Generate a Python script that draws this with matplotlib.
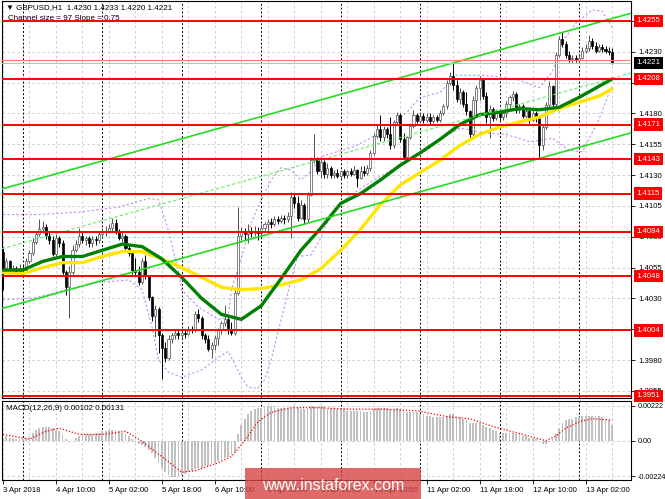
import matplotlib
matplotlib.use("Agg")
import matplotlib.pyplot as plt
from matplotlib.patches import Rectangle
import numpy as np

plt.rcParams['font.family'] = ['Liberation Sans', 'DejaVu Sans']

# GBPUSD H1 candles, first bar = 3 Apr 18:00
bar_open = [
    1.4068, 1.4055, 1.4060, 1.4053, 1.4055, 1.4052, 1.4055, 1.4053, 1.4060, 1.4067,
    1.4076, 1.4082, 1.4086, 1.4088, 1.4081, 1.4077, 1.4066, 1.4079, 1.4075, 1.4051,
    1.4039, 1.4051, 1.4069, 1.4074, 1.4081, 1.4077, 1.4079, 1.4075, 1.4078, 1.4077,
    1.4082, 1.4084, 1.4085, 1.4087, 1.4091, 1.4085, 1.4079, 1.4081, 1.4071, 1.4067,
    1.4053, 1.4051, 1.4043, 1.4060, 1.4048, 1.4031, 1.4016, 1.4021, 1.4000, 1.3990,
    1.3982, 1.3997, 1.4000, 1.4002, 1.4000, 1.4002, 1.4001, 1.4005, 1.4004, 1.4017,
    1.4014, 1.4000, 1.3997, 1.3989, 1.3992, 1.3998, 1.4004, 1.4010, 1.4013, 1.4004,
    1.4002, 1.4034, 1.4081, 1.4084, 1.4082, 1.4085, 1.4083, 1.4085, 1.4083, 1.4087,
    1.4090, 1.4092, 1.4090, 1.4094, 1.4093, 1.4095, 1.4094, 1.4097, 1.4112, 1.4107,
    1.4095, 1.4106, 1.4094, 1.4114, 1.4142, 1.4144, 1.4133, 1.4141, 1.4131, 1.4136,
    1.4130, 1.4132, 1.4129, 1.4133, 1.4130, 1.4133, 1.4131, 1.4134, 1.4128, 1.4133,
    1.4132, 1.4136, 1.4148, 1.4162, 1.4167, 1.4161, 1.4167, 1.4163, 1.4154, 1.4173,
    1.4179, 1.4159, 1.4145, 1.4161, 1.4170, 1.4179, 1.4174, 1.4178, 1.4175, 1.4177,
    1.4174, 1.4177, 1.4175, 1.4180, 1.4186, 1.4205, 1.4210, 1.4203, 1.4192, 1.4197,
    1.4188, 1.4182, 1.4163, 1.4191, 1.4201, 1.4207, 1.4194, 1.4177, 1.4184, 1.4176,
    1.4182, 1.4177, 1.4180, 1.4188, 1.4193, 1.4196, 1.4183, 1.4186, 1.4178, 1.4182,
    1.4175, 1.4180, 1.4176, 1.4154, 1.4169, 1.4187, 1.4202, 1.4188, 1.4227, 1.4240,
    1.4236, 1.4227, 1.4224, 1.4225, 1.4223, 1.4225, 1.4231, 1.4233, 1.4239, 1.4235,
    1.4231, 1.4234, 1.4232, 1.4231, 1.4230]
bar_high = [
    1.4072, 1.4063, 1.4061, 1.4057, 1.4056, 1.4058, 1.4057, 1.4063, 1.4069, 1.4079,
    1.4085, 1.4094, 1.4093, 1.4090, 1.4085, 1.4081, 1.4082, 1.4081, 1.4077, 1.4053,
    1.4056, 1.4073, 1.4077, 1.4087, 1.4084, 1.4081, 1.4081, 1.4081, 1.4081, 1.4085,
    1.4087, 1.4089, 1.4090, 1.4095, 1.4094, 1.4086, 1.4084, 1.4082, 1.4073, 1.4068,
    1.4063, 1.4056, 1.4063, 1.4065, 1.4049, 1.4032, 1.4025, 1.4023, 1.4002, 1.3995,
    1.4000, 1.4002, 1.4004, 1.4004, 1.4004, 1.4004, 1.4008, 1.4008, 1.4020, 1.4021,
    1.4016, 1.4002, 1.4000, 1.3995, 1.4000, 1.4006, 1.4012, 1.4025, 1.4015, 1.4011,
    1.4037, 1.4104, 1.4088, 1.4087, 1.4090, 1.4088, 1.4089, 1.4088, 1.4090, 1.4092,
    1.4094, 1.4095, 1.4097, 1.4097, 1.4098, 1.4098, 1.4100, 1.4116, 1.4115, 1.4113,
    1.4110, 1.4107, 1.4116, 1.4145, 1.4163, 1.4145, 1.4145, 1.4142, 1.4140, 1.4137,
    1.4134, 1.4135, 1.4134, 1.4135, 1.4134, 1.4136, 1.4137, 1.4135, 1.4137, 1.4137,
    1.4138, 1.4150, 1.4164, 1.4171, 1.4179, 1.4170, 1.4169, 1.4177, 1.4175, 1.4181,
    1.4180, 1.4164, 1.4162, 1.4172, 1.4183, 1.4180, 1.4180, 1.4180, 1.4180, 1.4180,
    1.4179, 1.4179, 1.4183, 1.4188, 1.4207, 1.4214, 1.4222, 1.4207, 1.4201, 1.4199,
    1.4197, 1.4183, 1.4194, 1.4203, 1.4210, 1.4209, 1.4197, 1.4187, 1.4185, 1.4184,
    1.4183, 1.4183, 1.4190, 1.4195, 1.4198, 1.4197, 1.4188, 1.4188, 1.4184, 1.4183,
    1.4183, 1.4182, 1.4178, 1.4171, 1.4189, 1.4206, 1.4203, 1.4230, 1.4243, 1.4246,
    1.4239, 1.4231, 1.4227, 1.4227, 1.4227, 1.4234, 1.4236, 1.4244, 1.4241, 1.4238,
    1.4236, 1.4236, 1.4235, 1.4234, 1.4233]
bar_low = [
    1.4037, 1.4051, 1.4050, 1.4050, 1.4049, 1.4051, 1.4048, 1.4051, 1.4059, 1.4065,
    1.4074, 1.4081, 1.4083, 1.4078, 1.4074, 1.4064, 1.4064, 1.4072, 1.4048, 1.4033,
    1.4014, 1.4048, 1.4068, 1.4072, 1.4075, 1.4073, 1.4072, 1.4072, 1.4073, 1.4075,
    1.4079, 1.4081, 1.4083, 1.4084, 1.4082, 1.4077, 1.4076, 1.4068, 1.4064, 1.4050,
    1.4048, 1.4041, 1.4042, 1.4046, 1.4029, 1.4012, 1.3999, 1.3986, 1.3965, 1.3978,
    1.3980, 1.3994, 1.3997, 1.3997, 1.3998, 1.3998, 1.4000, 1.4002, 1.4003, 1.4011,
    1.3997, 1.3994, 1.3987, 1.3982, 1.3988, 1.3992, 1.4001, 1.4008, 1.4001, 1.4000,
    1.4000, 1.4033, 1.4077, 1.4077, 1.4075, 1.4080, 1.4081, 1.4077, 1.4082, 1.4085,
    1.4084, 1.4087, 1.4089, 1.4090, 1.4091, 1.4090, 1.4092, 1.4079, 1.4103, 1.4093,
    1.4094, 1.4090, 1.4092, 1.4113, 1.4140, 1.4131, 1.4128, 1.4128, 1.4128, 1.4128,
    1.4128, 1.4128, 1.4127, 1.4128, 1.4128, 1.4129, 1.4130, 1.4120, 1.4127, 1.4129,
    1.4130, 1.4133, 1.4146, 1.4160, 1.4158, 1.4158, 1.4160, 1.4151, 1.4152, 1.4171,
    1.4157, 1.4144, 1.4144, 1.4159, 1.4168, 1.4172, 1.4172, 1.4172, 1.4173, 1.4171,
    1.4172, 1.4173, 1.4173, 1.4179, 1.4184, 1.4203, 1.4199, 1.4189, 1.4188, 1.4185,
    1.4179, 1.4160, 1.4162, 1.4177, 1.4191, 1.4192, 1.4172, 1.4160, 1.4174, 1.4175,
    1.4175, 1.4175, 1.4177, 1.4184, 1.4190, 1.4180, 1.4180, 1.4176, 1.4176, 1.4172,
    1.4174, 1.4173, 1.4144, 1.4150, 1.4167, 1.4185, 1.4184, 1.4186, 1.4226, 1.4234,
    1.4225, 1.4222, 1.4221, 1.4222, 1.4222, 1.4224, 1.4229, 1.4231, 1.4232, 1.4229,
    1.4230, 1.4230, 1.4229, 1.4227, 1.4220]
bar_close = [
    1.4055, 1.4060, 1.4053, 1.4055, 1.4052, 1.4055, 1.4053, 1.4060, 1.4067, 1.4076,
    1.4082, 1.4086, 1.4088, 1.4081, 1.4077, 1.4066, 1.4079, 1.4075, 1.4051, 1.4039,
    1.4051, 1.4069, 1.4074, 1.4081, 1.4077, 1.4079, 1.4075, 1.4078, 1.4077, 1.4082,
    1.4084, 1.4085, 1.4087, 1.4091, 1.4085, 1.4079, 1.4081, 1.4071, 1.4067, 1.4053,
    1.4051, 1.4043, 1.4060, 1.4048, 1.4031, 1.4016, 1.4021, 1.4000, 1.3990, 1.3982,
    1.3997, 1.4000, 1.4002, 1.4000, 1.4002, 1.4001, 1.4005, 1.4004, 1.4017, 1.4014,
    1.4000, 1.3997, 1.3989, 1.3992, 1.3998, 1.4004, 1.4010, 1.4013, 1.4004, 1.4002,
    1.4034, 1.4081, 1.4084, 1.4082, 1.4085, 1.4083, 1.4085, 1.4083, 1.4087, 1.4090,
    1.4092, 1.4090, 1.4094, 1.4093, 1.4095, 1.4094, 1.4097, 1.4112, 1.4107, 1.4095,
    1.4106, 1.4094, 1.4114, 1.4142, 1.4144, 1.4133, 1.4141, 1.4131, 1.4136, 1.4130,
    1.4132, 1.4129, 1.4133, 1.4130, 1.4133, 1.4131, 1.4134, 1.4128, 1.4133, 1.4132,
    1.4136, 1.4148, 1.4162, 1.4167, 1.4161, 1.4167, 1.4163, 1.4154, 1.4173, 1.4179,
    1.4159, 1.4145, 1.4161, 1.4170, 1.4179, 1.4174, 1.4178, 1.4175, 1.4177, 1.4174,
    1.4177, 1.4175, 1.4180, 1.4186, 1.4205, 1.4210, 1.4203, 1.4192, 1.4197, 1.4188,
    1.4182, 1.4163, 1.4191, 1.4201, 1.4207, 1.4194, 1.4177, 1.4184, 1.4176, 1.4182,
    1.4177, 1.4180, 1.4188, 1.4193, 1.4196, 1.4183, 1.4186, 1.4178, 1.4182, 1.4175,
    1.4180, 1.4176, 1.4154, 1.4169, 1.4187, 1.4202, 1.4188, 1.4227, 1.4240, 1.4236,
    1.4227, 1.4224, 1.4225, 1.4223, 1.4225, 1.4231, 1.4233, 1.4239, 1.4235, 1.4231,
    1.4234, 1.4232, 1.4231, 1.4230, 1.4221]

# moving averages, sampled every 6 bars
ma_idx = [0, 6, 12, 18, 24, 30, 36, 42, 48, 54, 60, 66, 72, 78, 84, 90,
          96, 102, 108, 114, 120, 126, 132, 138, 144, 150, 156, 162, 168, 174, 180, 184]
ma_fast = [1.4053, 1.4053, 1.4060, 1.4064, 1.4064, 1.4069, 1.4074, 1.4072, 1.4062, 1.4047,
           1.4030, 1.4017, 1.4013, 1.4024, 1.4046, 1.4069, 1.4087, 1.4107, 1.4115, 1.4126,
           1.4138, 1.4148, 1.4159, 1.4171, 1.4179, 1.4181, 1.4184, 1.4183, 1.4185, 1.4193,
           1.4202, 1.4208]
ma_slow = [1.4051, 1.4050, 1.4055, 1.4059, 1.4059, 1.4064, 1.4068, 1.4068, 1.4062, 1.4055,
           1.4047, 1.4039, 1.4037, 1.4038, 1.4041, 1.4045, 1.4054, 1.4069, 1.4086, 1.4106,
           1.4122, 1.4132, 1.4142, 1.4154, 1.4163, 1.4169, 1.4173, 1.4177, 1.4184, 1.4189,
           1.4194, 1.4200]

# bollinger-style envelope (violet dotted)
bb_up_idx = [0, 11, 23, 35, 44, 47, 50, 53, 54, 59, 62, 65, 68, 69, 73, 75, 77, 79, 81, 84,
             87, 90, 93, 96, 106, 116, 122, 126, 132, 137, 143, 149, 156, 162, 166, 169, 173, 178, 181, 184]
bb_up = [1.4098, 1.4098, 1.4100, 1.4104, 1.4111, 1.4110, 1.4085, 1.4051, 1.4037, 1.4023,
         1.4018, 1.4013, 1.4015, 1.4037, 1.4072, 1.4091, 1.4104, 1.4115, 1.4126, 1.4136,
         1.4134, 1.4126, 1.4133, 1.4145, 1.4153, 1.4167, 1.4181, 1.4193, 1.4197, 1.4211,
         1.4211, 1.4210, 1.4207, 1.4201, 1.4214, 1.4238, 1.4253, 1.4264, 1.4263, 1.4250]
bb_lo_idx = [0, 9, 19, 29, 38, 42, 45, 47, 50, 54, 60, 65, 68, 69, 72, 74, 77, 79, 81, 83,
             85, 87, 89, 93, 96, 99, 104, 111, 116, 122, 128, 132, 138, 146, 152, 159, 166, 171, 175, 180, 184]
bb_lo = [1.4029, 1.4030, 1.4037, 1.4043, 1.4045, 1.4037, 1.4007, 1.3980, 1.3970, 1.3966,
         1.3972, 1.3982, 1.3987, 1.3982, 1.3966, 1.3958, 1.3957, 1.3964, 1.3980, 1.4002,
         1.4023, 1.4045, 1.4064, 1.4065, 1.4079, 1.4098, 1.4112, 1.4124, 1.4132, 1.4142,
         1.4150, 1.4159, 1.4168, 1.4164, 1.4163, 1.4157, 1.4160, 1.4150, 1.4149, 1.4175,
         1.4203]

# regression channel (size 97, slope 0.75), values at bar 0 and bar 184
chan_idx = [0, 184]
chan_high = [1.4119, 1.4257]
chan_mid = [1.40705, 1.42085]
chan_low = [1.4022, 1.4160]

# MACD(12,26,9)
macd_hist = [
    0.0002, 0.0003, 0.0002, 0.0002, 0.0001, 0.0001, 0.0001, 0.0002, 0.0003, 0.0005,
    0.0007, 0.0008, 0.0009, 0.0009, 0.0009, 0.0008, 0.0007, 0.0006, 0.0004, 0.0001,
    -0.0001, 0.0000, 0.0002, 0.0003, 0.0004, 0.0004, 0.0004, 0.0004, 0.0005, 0.0005,
    0.0006, 0.0006, 0.0007, 0.0007, 0.0007, 0.0006, 0.0005, 0.0004, 0.0003, 0.0001,
    -0.0001, -0.0002, -0.0003, -0.0004, -0.0006, -0.0008, -0.0011, -0.0014, -0.0017, -0.0020,
    -0.0022, -0.0023, -0.0023, -0.0023, -0.0022, -0.0021, -0.0020, -0.0019, -0.0018, -0.0017,
    -0.0017, -0.0016, -0.0016, -0.0015, -0.0014, -0.0013, -0.0012, -0.0011, -0.0010, -0.0009,
    -0.0007, 0.0004, 0.0010, 0.0014, 0.0017, 0.0019, 0.0020, 0.0021, 0.0021, 0.0022,
    0.0022, 0.0022, 0.0022, 0.0021, 0.0021, 0.0021, 0.0021, 0.0021, 0.0021, 0.0021,
    0.0020, 0.0020, 0.0021, 0.0022, 0.0022, 0.0022, 0.0022, 0.0022, 0.0021, 0.0021,
    0.0021, 0.0020, 0.0020, 0.0020, 0.0019, 0.0019, 0.0019, 0.0019, 0.0019, 0.0018,
    0.0018, 0.0019, 0.0020, 0.0021, 0.0021, 0.0021, 0.0021, 0.0020, 0.0020, 0.0021,
    0.0020, 0.0019, 0.0018, 0.0018, 0.0018, 0.0018, 0.0017, 0.0017, 0.0016, 0.0016,
    0.0015, 0.0015, 0.0015, 0.0015, 0.0016, 0.0017, 0.0017, 0.0016, 0.0015, 0.0014,
    0.0013, 0.0011, 0.0011, 0.0011, 0.0011, 0.0010, 0.0009, 0.0008, 0.0007, 0.0006,
    0.0005, 0.0005, 0.0005, 0.0005, 0.0005, 0.0004, 0.0004, 0.0003, 0.0003, 0.0002,
    0.0002, 0.0001, -0.0001, -0.0002, -0.0002, -0.0001, 0.0001, 0.0004, 0.0008, 0.0011,
    0.0013, 0.0014, 0.0014, 0.0015, 0.0015, 0.0016, 0.0016, 0.0016, 0.0016, 0.0016,
    0.0016, 0.0015, 0.0014, 0.0013, 0.00102]
sig_idx = [0, 8, 13, 17, 23, 30, 37, 41, 48, 54, 58, 65, 69, 73, 77, 81, 87, 95, 105, 115,
           125, 135, 141, 148, 157, 164, 167, 170, 174, 178, 184]
sig_val = [0.0004, 0.0001, 0.0006, 0.0008, 0.0004, 0.0004, 0.0006, 0.0001, -0.0010, -0.0020,
           -0.0019, -0.0014, -0.0010, 0.0000, 0.0012, 0.0018, 0.0021, 0.0021, 0.0020, 0.0020,
           0.0019, 0.0015, 0.0014, 0.0009, 0.0004, 0.0000, 0.0003, 0.0008, 0.0012, 0.0014,
           0.00131]

levels = [1.4255, 1.4208, 1.4171, 1.4143, 1.4115, 1.4084, 1.4048, 1.4004, 1.3951]
bid, ask = 1.4221, 1.4223
price_ticks = [1.3955, 1.3980, 1.4005, 1.4030, 1.4055, 1.4080, 1.4105, 1.4130,
               1.4155, 1.4180, 1.4205, 1.4230, 1.4255]
date_idx = [0, 16, 32, 48, 64, 80, 96, 112, 128, 144, 160, 176]
date_labels = ["3 Apr 2018", "4 Apr 10:00", "5 Apr 02:00", "5 Apr 18:00", "6 Apr 10:00",
               "9 Apr 02:00", "9 Apr 18:00", "10 Apr 10:00", "11 Apr 02:00", "11 Apr 18:00",
               "12 Apr 10:00", "13 Apr 02:00"]
day_starts = [6, 30, 54, 78, 102, 126, 150, 174]

W, H = 665, 499
FS = 5.6


def box(x0, y0, x1, y1):
    return [x0 / W, 1 - y1 / H, (x1 - x0) / W, (y1 - y0) / H]


fig = plt.figure(figsize=(W / 100, H / 100), dpi=100)
ax = fig.add_axes(box(2, 1, 631, 398))
axm = fig.add_axes(box(2, 401, 631, 480))

for a in (ax, axm):
    a.set_xlim(-0.3, 189.7)
    for s in a.spines.values():
        s.set_linewidth(0.8)
        s.set_color('black')
    for i in range(0, 190, 8):
        a.axvline(i, color='#c8c8c8', lw=0.6, ls=(0, (3, 3)), zorder=0)
    for d in day_starts:
        a.axvline(d, color='black', lw=0.7, ls=(0, (2, 2)), zorder=1)

ax.set_ylim(1.39492, 1.42712)
for v in price_ticks:
    ax.axhline(v, color='#c8c8c8', lw=0.6, ls=(0, (3, 3)), zorder=0)

# envelope under the candles
ax.plot(bb_up_idx, bb_up, color='#c38cf2', lw=0.8, ls=(0, (2, 2)), zorder=2)
ax.plot(bb_lo_idx, bb_lo, color='#c38cf2', lw=0.8, ls=(0, (2, 2)), zorder=2)

# candles
o = np.array(bar_open)
h = np.array(bar_high)
l = np.array(bar_low)
c = np.array(bar_close)
xi = np.arange(len(c))
bull = c >= o
ax.vlines(xi, l, h, colors=np.where(bull, '#505050', '#000000'), lw=0.7, zorder=3)
ax.bar(xi, np.maximum(np.abs(c - o), 0.00003), bottom=np.minimum(o, c), width=0.62,
       color=np.where(bull, 'white', 'black'), edgecolor=np.where(bull, '#505050', 'black'),
       linewidth=0.5, zorder=3.5)

ax.plot(ma_idx, ma_slow, color='#ffe600', lw=2.4, zorder=4, solid_capstyle='round')
ax.plot(ma_idx, ma_fast, color='#008000', lw=2.4, zorder=4.2, solid_capstyle='round')

ax.axline((chan_idx[0], chan_high[0]), (chan_idx[1], chan_high[1]), color='#22dd22', lw=1.2, zorder=4.5)
ax.axline((chan_idx[0], chan_low[0]), (chan_idx[1], chan_low[1]), color='#22dd22', lw=1.2, zorder=4.5)
ax.axline((chan_idx[0], chan_mid[0]), (chan_idx[1], chan_mid[1]), color='#66ee66', lw=0.8,
          ls=(0, (3, 2)), zorder=4.5)

for lv in levels:
    ax.axhline(lv, color='#ff0000', lw=1.4, zorder=5)
ax.axhline(ask, color='#ff8050', lw=0.8, zorder=5)
ax.axhline(bid, color='#c0c0c0', lw=0.8, zorder=5)

# right price scale
ax.yaxis.tick_right()
ax.set_yticks(price_ticks)
ax.set_yticklabels([f"{v:.4f}" for v in price_ticks])
ax.tick_params(axis='y', labelsize=FS, length=3, width=0.6, pad=2)
ax.tick_params(axis='x', bottom=False, labelbottom=False)

ytr = ax.get_yaxis_transform()
for lv in levels:
    ax.text(1.0085, lv, f"{lv:.4f}", transform=ytr, ha='left', va='center', fontsize=FS,
            color='white', zorder=6, clip_on=False,
            bbox=dict(boxstyle='square,pad=0.35', fc='#ff0000', ec='none'))
ax.text(1.0085, bid, f"{bid:.4f}", transform=ytr, ha='left', va='center', fontsize=FS,
        color='white', zorder=6, clip_on=False,
        bbox=dict(boxstyle='square,pad=0.35', fc='black', ec='none'))

# MACD panel
axm.set_ylim(-0.00249, 0.00252)
for v in (0.00222, 0.0, -0.00224):
    axm.axhline(v, color='#c8c8c8', lw=0.6, ls=(0, (3, 3)), zorder=0)
axm.bar(xi, macd_hist, width=0.55, color='#c0c0c0', zorder=2)
axm.plot(sig_idx, sig_val, color='#ff0000', lw=0.9, ls=(0, (1, 1.5)), zorder=3)
axm.yaxis.tick_right()
axm.set_yticks([0.00222, 0.0, -0.00224])
axm.set_yticklabels(["0.00222", "0.00", "-0.00224"])
axm.tick_params(axis='y', labelsize=5.2, length=3, width=0.6, pad=1.5)
axm.set_xticks(date_idx)
axm.set_xticklabels(date_labels)
axm.tick_params(axis='x', labelsize=FS, length=3, width=0.6, pad=2)
for lbl in axm.get_xticklabels():
    lbl.set_ha('left')

# captions
fig.text(6 / W, 1 - 8 / H, "\u25bc GBPUSD,H1  1.4230 1.4233 1.4220 1.4221", fontsize=5.8, va='center')
fig.text(8 / W, 1 - 18 / H, "Channel size = 97 Slope = 0.75", fontsize=5.8, va='center')
fig.text(6 / W, 1 - 409 / H, "MACD(12,26,9) 0.00102 0.00131", fontsize=5.8, va='center')

# watermark
fig.add_artist(Rectangle((245 / W, 0), 176 / W, 31 / H, transform=fig.transFigure,
                         fc='#d64545', alpha=0.8, ec='none', zorder=10))
fig.text(333 / W, 1 - 485 / H, "www.instaforex.com", color='white', fontsize=11.5,
         ha='center', va='center', zorder=11)

fig.savefig('out.png', dpi=100)
